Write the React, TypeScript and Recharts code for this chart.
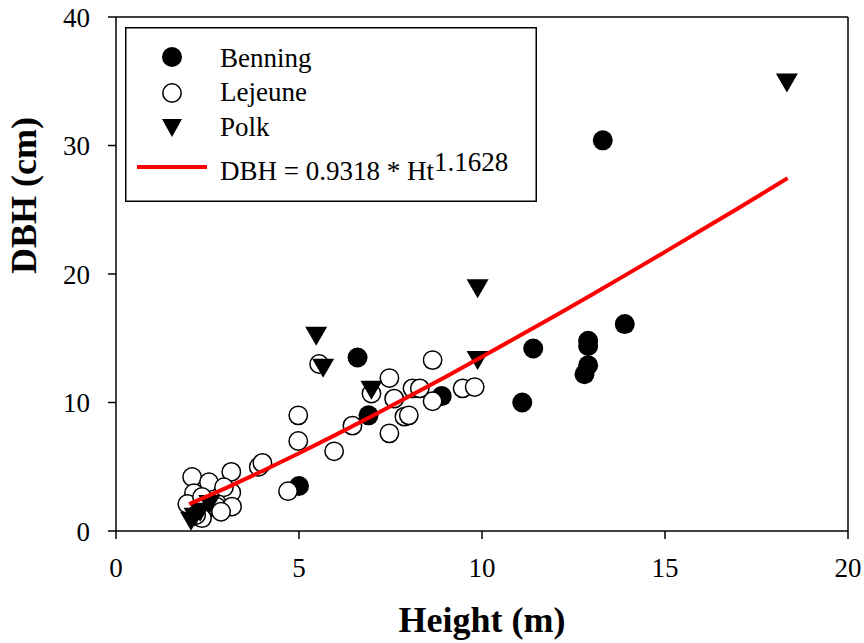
import React from 'react';
import { ScatterChart, Scatter, XAxis, YAxis, ReferenceLine, Legend } from 'recharts';

const FONT = '"Liberation Serif", "Times New Roman", Times, serif';

// Benning (filled circles)
const benningX = [13.3, 13.9, 11.4, 12.9, 12.9, 12.9, 12.8, 11.1, 8.9, 6.6, 6.9, 5.0, 2.35];
const benningY = [30.4, 16.1, 14.2, 14.8, 14.4, 12.9, 12.2, 10.0, 10.5, 13.5, 9.0, 3.5, 1.2];

// Lejeune (open circles)
const lejeuneX = [5.55, 4.98, 4.98, 5.96, 6.46, 6.98, 7.47, 7.6, 7.47, 7.88, 8.0, 8.1, 8.3, 8.65, 8.65, 9.47, 9.8,
  3.9, 4.0, 4.7, 3.15, 3.15, 2.08, 2.54, 2.95, 2.13, 1.95, 2.35, 2.74, 3.17, 2.87, 2.35, 2.19];
const lejeuneY = [13.0, 9.0, 7.0, 6.2, 8.2, 10.7, 11.9, 10.3, 7.6, 8.9, 9.0, 11.1, 11.1, 13.3, 10.1, 11.1, 11.2,
  5.0, 5.3, 3.1, 4.6, 3.0, 4.2, 3.8, 3.4, 2.95, 2.1, 2.65, 1.9, 1.9, 1.5, 1.0, 1.25];

// Polk (filled down triangles)
const polkX = [18.33, 9.88, 5.47, 5.66, 6.98, 9.88, 2.05, 2.15, 2.3, 2.55];
const polkY = [34.9, 18.9, 15.2, 12.7, 11.0, 13.3, 0.8, 1.1, 1.5, 2.1];

// Fitted curve DBH = 0.9318 * Ht^1.1628
const fitX = [2, 3, 4, 5, 6, 7, 8, 9, 10, 11, 12, 13, 14, 15, 16, 17, 18, 18.35];
const fitY = [2.09, 3.34, 4.67, 6.05, 7.48, 8.95, 10.46, 11.99, 13.56, 15.15, 16.76, 18.39, 20.05, 21.72, 23.42, 25.12, 26.85, 27.46];

const xTicks = [0, 5, 10, 15, 20];
const yTicks = [0, 10, 20, 30, 40];

const seriesNames = ['Benning', 'Lejeune', 'Polk'];
const fitLabel = 'DBH = 0.9318 * Ht';
const fitExponent = '1.1628';

const zip = (xs: number[], ys: number[]) => xs.map((x, i) => ({ x, y: ys[i] }));
const benningData = zip(benningX, benningY);
const lejeuneData = zip(lejeuneX, lejeuneY);
const polkData = zip(polkX, polkY);
const fitData = zip(fitX, fitY);

const FilledCircle = (p: any) => <circle cx={p.cx} cy={p.cy} r={10} fill="#000" />;
const OpenCircle = (p: any) => (
  <circle cx={p.cx} cy={p.cy} r={9.2} fill="#fff" stroke="#000" strokeWidth={1.5} />
);
const DownTri = (p: any) => (
  <path d={`M${p.cx - 11},${p.cy - 9}L${p.cx + 11},${p.cy - 9}L${p.cx},${p.cy + 10}Z`} fill="#000" />
);
const NoShape = () => <g />;

const XTick = (p: any) => (
  <text x={p.x} y={p.y} dy="0.71em" textAnchor="middle" fontSize={27} fill="#000" style={{ fontFamily: FONT }}>
    {p.payload.value}
  </text>
);
const YTick = (p: any) => (
  <text x={p.x} y={p.y} dy="0.355em" textAnchor="end" fontSize={27} fill="#000" style={{ fontFamily: FONT }}>
    {p.payload.value}
  </text>
);

const LegendBox = () => {
  const textStyle = { fontSize: 27, fill: '#000', style: { fontFamily: FONT } } as const;
  return (
    <svg width={412} height={175} style={{ display: 'block' }}>
      <rect x={0.75} y={0.75} width={410.5} height={173.5} fill="#fff" stroke="#000" strokeWidth={1.5} />
      <circle cx={47} cy={30} r={10} fill="#000" />
      <text x={95} y={40} {...textStyle}>{seriesNames[0]}</text>
      <circle cx={47} cy={66} r={9.2} fill="#fff" stroke="#000" strokeWidth={1.5} />
      <text x={95} y={74} {...textStyle}>{seriesNames[1]}</text>
      <path d={`M${47 - 10},${101 - 9}L${47 + 10},${101 - 9}L47,${101 + 9}Z`} fill="#000" />
      <text x={95} y={109} {...textStyle}>{seriesNames[2]}</text>
      <line x1={12} y1={140} x2={82} y2={140} stroke="#ff0000" strokeWidth={4} />
      <text x={95} y={153} {...textStyle}>
        {fitLabel}
        <tspan dy={-9}>{fitExponent}</tspan>
      </text>
    </svg>
  );
};

export default function App() {
  const axisStroke = { stroke: '#000', strokeWidth: 1.5 };
  return (
    <div
      style={{
        position: 'absolute',
        left: 0,
        top: 0,
        width: 864,
        height: 643,
        background: '#fff',
        fontFamily: FONT,
      }}
    >
      <ScatterChart width={864} height={643} margin={{ top: 17, right: 16, left: 0, bottom: 0 }}>
        <XAxis
          type="number"
          dataKey="x"
          domain={[0, 20]}
          ticks={xTicks}
          height={112}
          tickSize={8}
          tickMargin={19}
          axisLine={axisStroke}
          tickLine={axisStroke}
          tick={XTick}
          label={{
            value: 'Height (m)',
            position: 'insideBottom',
            offset: 11,
            fontSize: 36,
            fontWeight: 'bold',
            fontFamily: FONT,
            fill: '#000',
          }}
        />
        <YAxis
          type="number"
          dataKey="y"
          domain={[0, 40]}
          ticks={yTicks}
          width={116}
          tickSize={8}
          tickMargin={18}
          axisLine={axisStroke}
          tickLine={axisStroke}
          tick={YTick}
          label={{
            value: 'DBH (cm)',
            position: 'insideLeft',
            angle: -90,
            offset: 23,
            fontSize: 36,
            fontWeight: 'bold',
            fontFamily: FONT,
            fill: '#000',
          }}
        />
        <ReferenceLine y={40} stroke="#000" strokeWidth={1.5} />
        <ReferenceLine x={20} stroke="#000" strokeWidth={1.5} />
        <Scatter name={seriesNames[0]} data={benningData} shape={FilledCircle} isAnimationActive={false} />
        <Scatter name={seriesNames[1]} data={lejeuneData} shape={OpenCircle} isAnimationActive={false} />
        <Scatter name={seriesNames[2]} data={polkData} shape={DownTri} isAnimationActive={false} />
        <Scatter
          name={fitLabel + fitExponent}
          data={fitData}
          shape={NoShape}
          line={{ stroke: '#ff0000', strokeWidth: 4 }}
          lineType="joint"
          isAnimationActive={false}
        />
        <Legend
          layout="vertical"
          align="center"
          verticalAlign="middle"
          content={LegendBox}
          wrapperStyle={{ position: 'absolute', left: 125, top: 27, width: 412, height: 175 }}
        />
      </ScatterChart>
    </div>
  );
}
